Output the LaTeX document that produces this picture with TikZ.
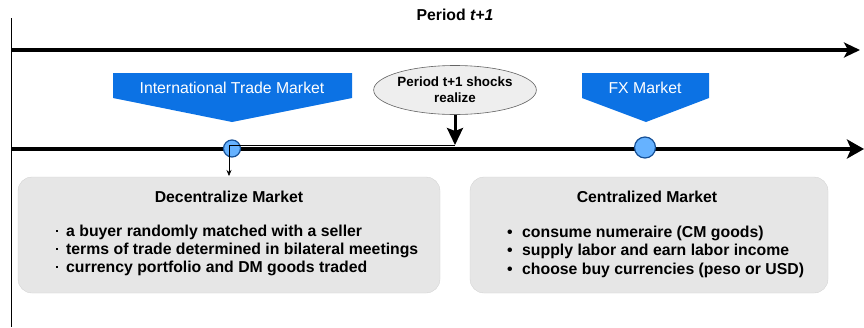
\documentclass[tikz,border=0pt]{standalone}
\usepackage{fontspec}
\setmainfont{Liberation Sans}
\usetikzlibrary{shapes.geometric,arrows.meta}
\definecolor{mktblue}{RGB}{12,114,228}
\definecolor{dotfill}{RGB}{102,178,255}
\definecolor{dotline}{RGB}{22,80,150}
\definecolor{shockfill}{RGB}{238,238,238}
\definecolor{shockline}{RGB}{100,100,100}
\definecolor{boxfill}{RGB}{230,230,230}
\tikzset{
  timeline/.style={line width=3.5pt},
  banner/.style={fill=mktblue},
  bannertext/.style={text=white,font=\fontsize{15.8}{18}\selectfont,inner sep=0pt},
  event/.style={circle,draw=dotline,fill=dotfill,line width=1.2pt,inner sep=0pt},
  shockbox/.style={ellipse,draw=shockline,fill=shockfill,line width=0.6pt,
    minimum width=136pt,minimum height=49pt,inner sep=0pt,align=center,
    font=\bfseries\fontsize{13.4}{16}\selectfont},
  marketbox/.style={rounded corners=14pt,fill=boxfill,draw=boxfill!90!black,line width=0.3pt},
  boxtitle/.style={font=\bfseries\fontsize{15.8}{18}\selectfont,inner sep=0pt},
  item/.style={anchor=west,font=\bfseries\fontsize{15.8}{18}\selectfont,inner sep=0pt}
}
\newcommand{\smalldot}{\makebox[10pt][l]{\raisebox{0.5ex}{\rule{2.2pt}{2.2pt}}}}
\newcommand{\bigdot}{\makebox[14pt][l]{\hspace{-1pt}\textbullet}}
\begin{document}
\begin{tikzpicture}[x=1pt,y=-1pt]
\useasboundingbox (0,0) rectangle (864,327);

% heading
\node[font=\bfseries\fontsize{15.8}{18}\selectfont,inner sep=0pt] (title) at (455,15) {Period \textit{t+1}};

% left boundary of the period
\coordinate (vtop) at (11,18);
\coordinate (vbot) at (11,327);
\draw[line width=0.8pt] (vtop) -- (vbot);

% two time lines
\coordinate (ta) at (11,50);
\coordinate (tb) at (860,50);
\coordinate (ba) at (11,149);
\coordinate (bb) at (864,149);
\draw[timeline,-{Stealth[length=16pt,width=15pt,inset=4pt]}] (ta) -- (tb);
\draw[timeline,-{Stealth[length=17pt,width=19pt,inset=4pt]}] (ba) -- (bb);

% market banners
\fill[banner] (113,73) -- (352,73) -- (352,98) -- (232,122) -- (113,98) -- cycle;
\node[bannertext] (itm) at (232,87.5) {International Trade Market};
\fill[banner] (582,73) -- (709,73) -- (709,98) -- (646,122) -- (582,98) -- cycle;
\node[bannertext] (fxm) at (645,87.5) {FX Market};

% shock realisation
\node[shockbox] (shock) at (455,90) {Period t+1 shocks\\realize};
\coordinate (hit) at (455,145);
\draw[line width=3pt,-{Stealth[length=17pt,width=16pt,inset=3pt]}] (shock.south) -- (hit);

% market boxes
\draw[marketbox] (18,177) rectangle (440,293);
\node[boxtitle] (dmtitle) at (229,197) {Decentralize Market};
\node[item] (dm1) at (56,232) {\smalldot a buyer randomly matched with a seller};
\node[item] (dm2) at (56,250) {\smalldot terms of trade determined in bilateral meetings};
\node[item] (dm3) at (56,268) {\smalldot currency portfolio and DM goods traded};
\coordinate (dmtop) at (229,176);

\draw[marketbox] (470,177) rectangle (828,293);
\node[boxtitle] (cmtitle) at (647,197) {Centralized Market};
\node[item] (cm1) at (508,233) {\bigdot consume numeraire (CM goods)};
\node[item] (cm2) at (508,251) {\bigdot supply labor and earn labor income};
\node[item] (cm3) at (508,270) {\bigdot choose buy currencies (peso or USD)};

% event points on the lower time line
\node[event,minimum size=17pt] (dmpt) at (232,148.5) {};
\node[event,minimum size=21pt] (fxpt) at (645,147.5) {};

% link from the shock to the decentralized market
\draw[line width=0.6pt,-{Stealth[length=6pt,width=5pt]}] (hit) -- (229,145) -- (dmtop);
\end{tikzpicture}
\end{document}
